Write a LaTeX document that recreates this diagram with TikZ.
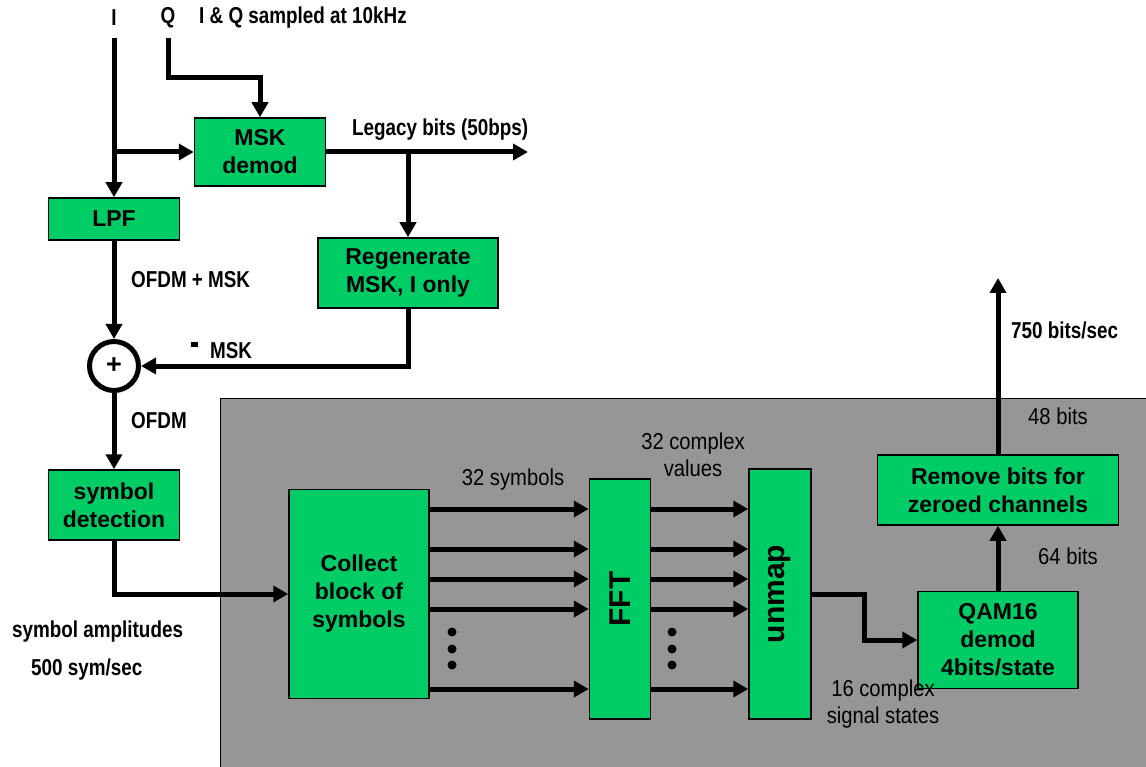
\documentclass[tikz,border=0pt]{standalone}
\usepackage{fontspec}
\setmainfont{Liberation Sans}
\newfontfamily\narrowbf{Liberation Sans}[FakeStretch=0.82]
\newfontfamily\narrowrg{Liberation Sans}[FakeStretch=0.88]
\usetikzlibrary{arrows.meta,calc}
\definecolor{BlockGreen}{RGB}{0,204,102}
\definecolor{PanelGray}{RGB}{150,150,150}

\begin{document}
\begin{tikzpicture}[x=1pt,y=-1pt,
        blk/.style={draw=black,line width=1.5pt,fill=BlockGreen,align=center,inner sep=0pt,
            font=\fontsize{23}{28}\selectfont\bfseries},
        bigblk/.style={blk,font=\fontsize{30}{34}\selectfont\bfseries},
        sig/.style={line width=5pt,-{Triangle[length=15pt,width=16pt]}},
        lbl/.style={inner sep=0pt,font=\narrowbf\fontsize{23}{28}\selectfont\bfseries},
        lblin/.style={inner sep=0pt,align=center,font=\narrowrg\fontsize{23}{27}\selectfont}]
        \useasboundingbox (0,0) rectangle (1146,767);
        \fill[PanelGray] (220,398) rectangle (1150,770);
        \draw[line width=1pt] (220,770) -- (220,398) -- (1150,398);

        % input side
        \node (Ilbl) [lbl] at (114,18) {I};
        \node (Qlbl) [lbl] at (168,18) {Q};
        \node (rate) [lbl,anchor=west] at (199,18) {I \& Q sampled at 10kHz};
        \coordinate (Itop) at (114,38);
        \coordinate (Qtop) at (168,38);
        \coordinate (Isplit) at (114,152);

        \node (msk) [blk,minimum width=131,minimum height=68] at (260,152) {MSK\\demod};
        \node (lpf) [blk,minimum width=131,minimum height=42] at (114,219) {LPF};
        \node (regen) [blk,minimum width=180,minimum height=70] at (408,273) {Regenerate\\MSK, I only};
        \node (sum) [circle,draw,line width=5pt,minimum size=49,inner sep=0pt,
            font=\fontsize{27}{27}\selectfont\bfseries] at (114,366) {+};
        \node (detect) [blk,minimum width=131,minimum height=70] at (114,505) {symbol\\detection};
        \coordinate (legacy) at (528,152);
        \coordinate (mskbranch) at (408,152);

        \draw[sig] (Itop) -- (lpf.north);
        \draw[line width=5pt] (Isplit) -- (Itop);
        \draw[sig] (Isplit) -- (msk.west);
        \draw[sig] (Qtop) |- ($(msk.north)+(0,-40)$) -- (msk.north);
        \draw[sig] (msk.east) -- (legacy);
        \draw[sig] (mskbranch) -- (regen.north);
        \draw[sig] (regen.south) |- (sum.east);
        \draw[sig] (lpf.south) -- (sum.north);
        \draw[sig] (sum.south) -- (detect.north);

        \node (legacylbl) [lbl,anchor=west] at (352,130) {Legacy bits (50bps)};
        \node (mixlbl) [lbl,anchor=west] at (131,280) {OFDM + MSK};
        \node (minus) [inner sep=0pt] at (194,345) {\rule{7pt}{5pt}};
        \node (msklbl) [lbl,anchor=west] at (210,351) {MSK};
        \node (ofdmlbl) [lbl,anchor=west] at (131,421) {OFDM};
        \node (amplbl) [lbl,anchor=west] at (12,632) {symbol amplitudes};
        \node (symrate) [lbl,anchor=west] at (31,670) {500 sym/sec};

        % OFDM receiver block
        \node (collect) [blk,minimum width=140,minimum height=209] at (359,594) {Collect\\block of\\symbols};
        \node (fft) [bigblk,minimum width=61,minimum height=240] at (620,599) {\rotatebox{90}{FFT}};
        \node (unmap) [bigblk,minimum width=62,minimum height=250] at (780,594) {\rotatebox{90}{unmap}};
        \node (qam) [blk,minimum width=160,minimum height=97] at (998,640) {QAM16\\demod\\4bits/state};
        \node (remove) [blk,minimum width=241,minimum height=70] at (998,490) {Remove bits for\\zeroed channels};
        \coordinate (out) at (998,278);

        \draw[sig] (detect.south) |- (collect.west);
        \foreach \yy in {509,549,579,609,689}
        {
            \draw[sig] (collect.east |- 0,\yy) -- (fft.west |- 0,\yy);
            \draw[sig] (fft.east |- 0,\yy) -- (unmap.west |- 0,\yy);
        }
        \foreach \yy in {632,649,665}
        {
            \fill (452,\yy) circle (4.5);
            \fill (672,\yy) circle (4.5);
        }
        \draw[sig] (unmap.east) -- ++(53,0) |- (qam.west);
        \draw[sig] (qam.north) -- (remove.south);
        \draw[sig] (remove.north) -- (out);

        \node (symlbl) [lblin] at (513,480) {32 symbols};
        \node (cpxlbl) [lblin] at (693,455) {32 complex\\values};
        \node (statelbl) [lblin] at (883,704) {16 complex\\signal states};
        \node (b64) [lblin,anchor=west] at (1038,556) {64 bits};
        \node (b48) [lblin,anchor=west] at (1028,416) {48 bits};
        \node (outrate) [lbl,anchor=west] at (1011,330) {750 bits/sec};
\end{tikzpicture}
\end{document}
